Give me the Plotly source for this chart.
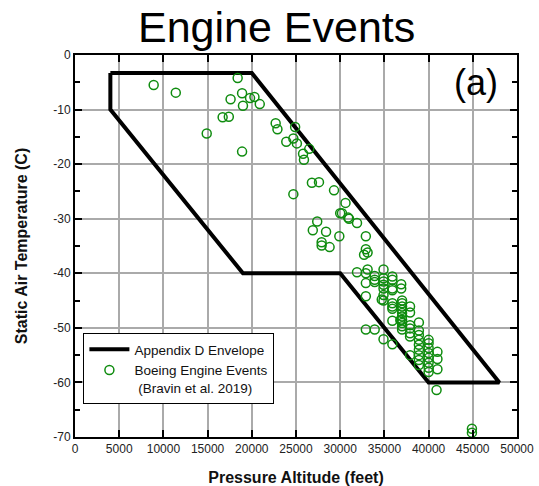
import plotly.graph_objects as go

# Appendix D envelope corners (pressure altitude ft, static air temperature C)
env_alt = [4000, 20000, 48000, 40000, 30000, 19000, 4000, 4000]
env_temp = [-3.3, -3.3, -60, -60, -40, -40, -10, -3.3]

# Boeing engine events (Bravin et al. 2019)
event_alt = [
    8900, 11400, 18400, 18900, 17600, 19800, 20300, 19000, 20900, 16700,
    17400, 14900, 18900, 22700, 22900, 24900, 24700, 23900, 25100, 24700,
    26500, 25800, 25900, 26800, 27600, 29300, 30600, 30000, 30200, 30900,
    31000, 31900, 27400, 26900, 28400, 29900, 32900, 27900, 27900, 28800,
    32900, 33100, 32700,
    31900, 33100, 32900, 34900, 33900, 33900, 33900, 32900, 34900, 34900,
    34900, 34900, 35900, 35900, 35900, 35900, 36900, 36900, 32900, 34700,
    34900, 34900, 35900, 35900, 35900,
    37000, 37000, 37000, 37000, 37000, 37000, 37000, 37000, 37000, 37000,
    37900, 37900, 35900, 36800, 37900, 37900, 37900, 37900, 38900, 38900,
    38900, 32900, 33900, 34900, 35900, 37900,
    38900, 38900, 38900, 38900, 38900, 38900,
    40000, 40000, 40000, 40000, 40000, 40000, 40000, 40000,
    41000, 41000, 41000, 40900, 44900, 44900,
]
event_temp = [
    -5.5, -6.9, -4.2, -7.0, -8.1, -7.9, -7.7, -9.3, -9.0, -11.4,
    -11.3, -14.4, -17.7, -12.5, -13.6, -13.2, -15.3, -15.9, -16.2, -25.5,
    -17.2, -18.1, -19.2, -23.4, -23.3, -24.8, -27.1, -29.0, -29.0, -29.8,
    -30.0, -30.8, -30.5, -32.1, -32.4, -33.2, -33.2, -34.3, -34.9, -35.2,
    -35.6, -36.2, -36.6,
    -39.8, -39.3, -40.0, -39.3, -40.5, -41.2, -41.6, -41.8, -40.9, -41.5,
    -42.1, -42.8, -40.6, -41.2, -42.8, -43.1, -42.0, -42.8, -44.2, -44.8,
    -45.0, -44.0, -45.5, -46.1, -46.5,
    -45.0, -45.5, -46.1, -46.7, -47.3, -47.9, -48.5, -49.1, -49.7, -50.3,
    -46.1, -47.2, -48.7, -48.6, -49.5, -50.1, -51.0, -51.6, -49.0, -50.5,
    -51.3, -50.3, -50.3, -52.1, -53.0, -55.0,
    -52.2, -53.1, -54.0, -55.0, -55.9, -56.8,
    -52.2, -52.8, -53.7, -54.6, -55.5, -56.4, -57.3, -58.1,
    -54.4, -55.7, -57.6, -61.4, -68.5, -69.2,
]

x_ticks = [0, 5000, 10000, 15000, 20000, 25000, 30000, 35000, 40000, 45000, 50000]
x_labels = [str(v) for v in x_ticks]
y_ticks = [0, -10, -20, -30, -40, -50, -60, -70]
y_labels = [str(v) for v in y_ticks]

font = "Arial, Liberation Sans, sans-serif"
green = "#0f8c0f"

fig = go.Figure()
fig.add_trace(go.Scatter(
    x=env_alt, y=env_temp, mode="lines",
    line=dict(color="black", width=4),
    name="Appendix D Envelope",
))
fig.add_trace(go.Scatter(
    x=event_alt, y=event_temp, mode="markers",
    marker=dict(symbol="circle-open", size=9, color=green, line=dict(width=1.5, color=green)),
    name="Boeing Engine Events<br> (Bravin et al. 2019)",
))

axis_common = dict(
    showline=True, linecolor="black", linewidth=2, mirror="ticks",
    ticks="inside", ticklen=7, tickwidth=1.5, tickcolor="black",
    showgrid=True, gridcolor="#aaaaaa", gridwidth=1.5,
    zeroline=False, automargin=False,
    tickfont=dict(family=font, size=12, color="#222222"),
)

fig.update_xaxes(
    range=[0, 50000], tickmode="array", tickvals=x_ticks, ticktext=x_labels,
    title=dict(text="<b>Pressure Altitude (feet)</b>", font=dict(family=font, size=16, color="#111111"), standoff=18),
    **axis_common,
)
fig.update_yaxes(
    range=[-70, 0], tickmode="array", tickvals=y_ticks, ticktext=y_labels,
    minor=dict(tickvals=[-5, -15, -25, -35, -45, -55, -65], ticks="inside", ticklen=5, tickwidth=1.5, tickcolor="black", showgrid=False),
    title=dict(text="<b>Static Air Temperature (C)</b>", font=dict(family=font, size=16, color="#111111"), standoff=22),
    **axis_common,
)

fig.update_layout(
    width=539, height=486,
    margin=dict(l=75, r=22, t=55, b=49),
    paper_bgcolor="white", plot_bgcolor="white",
    font=dict(family=font),
    showlegend=True,
    legend=dict(
        x=0.019, y=0.272, xanchor="left", yanchor="top",
        bgcolor="white", bordercolor="black", borderwidth=1,
        font=dict(family=font, size=13.5, color="#111111"),
        valign="top", tracegroupgap=0, itemwidth=40,
    ),
    annotations=[
        dict(text="Engine Events", xref="paper", yref="paper", x=0.455, y=1.0,
             xanchor="center", yanchor="bottom", yshift=2, showarrow=False,
             font=dict(family=font, size=43, color="black")),
        dict(text="(a)", xref="x", yref="y", x=45400, y=-5.0,
             xanchor="center", yanchor="middle", showarrow=False,
             font=dict(family=font, size=36, color="black")),
    ],
)

fig.write_html("out.html")
